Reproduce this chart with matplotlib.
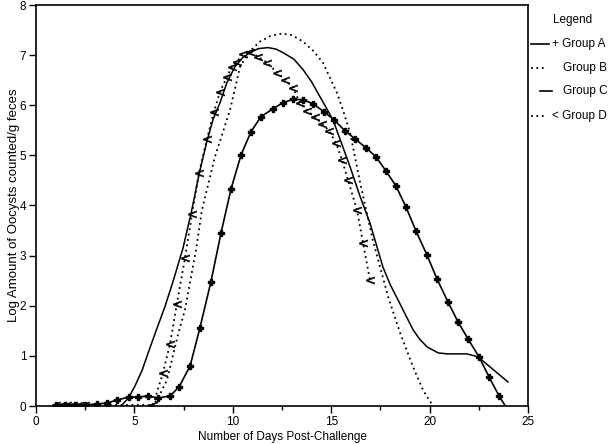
import matplotlib
matplotlib.use("Agg")
import matplotlib.pyplot as plt
from matplotlib.lines import Line2D
from matplotlib.ticker import MultipleLocator

plt.rcParams['font.family'] = ['Liberation Sans', 'DejaVu Sans']

# ---- data ----
days_a = [1.02, 1.47, 1.98, 2.49, 3.10, 3.61, 4.12, 4.73, 5.18, 5.69, 6.20, 6.81,
          7.27, 7.83, 8.33, 8.89, 9.40, 9.91, 10.42, 10.92, 11.43, 12.04, 12.55,
          13.06, 13.57, 14.08, 14.63, 15.14, 15.70, 16.21, 16.77, 17.28, 17.78,
          18.29, 18.80, 19.31, 19.87, 20.38, 20.93, 21.44, 21.95, 22.51, 23.02,
          23.53, 23.85]
vals_a = [0.02, 0.02, 0.02, 0.02, 0.04, 0.06, 0.12, 0.18, 0.18, 0.20, 0.16, 0.20,
          0.38, 0.80, 1.56, 2.48, 3.45, 4.33, 5.01, 5.47, 5.77, 5.93, 6.05,
          6.12, 6.11, 6.03, 5.87, 5.71, 5.49, 5.33, 5.15, 4.97, 4.69,
          4.39, 3.97, 3.49, 3.01, 2.53, 2.08, 1.68, 1.34, 0.98, 0.58,
          0.20, 0.0]

days_b = [5.85, 6.15, 6.66, 7.20, 7.57, 8.13, 8.43, 9.10, 9.86, 10.37, 10.85, 11.38,
          11.90, 12.50, 13.00, 13.57, 14.10, 14.58, 15.29, 15.60, 15.96, 16.50, 17.12,
          17.89, 18.50, 19.16, 19.66, 20.17]
vals_b = [0.0, 0.12, 0.52, 1.40, 1.92, 3.11, 3.91, 4.98, 5.91, 6.77, 7.07, 7.27,
          7.38, 7.43, 7.40, 7.27, 7.08, 6.85, 6.25, 5.90, 5.45, 4.40, 3.30,
          2.18, 1.46, 0.78, 0.32, 0.0]

days_c = [4.32, 4.70, 5.03, 5.40, 5.69, 6.10, 6.55, 6.96, 7.47, 7.90, 8.30, 8.69, 9.00,
          9.35, 9.70, 10.11, 10.50, 10.87, 11.30, 11.79, 12.20, 12.55, 13.10, 13.57,
          14.00, 14.43, 15.09, 15.96, 16.45, 16.97, 17.63, 18.00, 18.39, 18.80,
          19.16, 19.50, 19.87, 20.43, 20.88, 21.90, 22.46, 23.07, 23.98]
vals_c = [0.0, 0.16, 0.40, 0.72, 1.05, 1.50, 1.98, 2.48, 3.15, 3.88, 4.65, 5.29, 5.72,
          6.05, 6.45, 6.77, 6.95, 7.05, 7.13, 7.15, 7.12, 7.05, 6.92, 6.71,
          6.47, 6.17, 5.71, 4.77, 4.20, 3.65, 2.77, 2.42, 2.12, 1.80,
          1.52, 1.33, 1.18, 1.06, 1.04, 1.04, 0.98, 0.78, 0.48]

days_d = [1.00, 1.30, 1.60, 1.90, 2.20, 2.50, 5.95, 6.45, 6.81, 7.16, 7.57, 7.93,
          8.28, 8.69, 9.04, 9.35, 9.71, 9.96, 10.21, 10.52, 10.87, 11.28, 11.74,
          12.25, 12.65, 13.06, 13.41, 13.77, 14.18, 14.53, 14.89, 15.24, 15.55,
          15.85, 16.31, 16.62, 16.97]
vals_d = [0.02, 0.02, 0.02, 0.02, 0.02, 0.02, 0.02, 0.66, 1.24, 2.04, 2.95, 3.83,
          4.65, 5.33, 5.87, 6.27, 6.57, 6.77, 6.87, 7.03, 7.07, 6.97, 6.85,
          6.65, 6.51, 6.35, 6.05, 5.89, 5.77, 5.63, 5.49, 5.25, 4.91,
          4.51, 3.91, 3.25, 2.51]

X_LABEL = "Number of Days Post-Challenge"
Y_LABEL = "Log Amount of Oocysts counted/g feces"
LEGEND_LABELS = ["+ Group A", "Group B", "Group C", "< Group D"]

# ---- figure ----
fig = plt.figure(figsize=(6.08, 4.44), dpi=100)
ax = fig.add_axes([36 / 608, 1 - 406 / 444, (528 - 36) / 608, (406 - 5) / 444])

ax.plot(days_a, vals_a, color='black', lw=1.2, marker='P', ms=5,
        markevery=slice(0, len(days_a) - 1))
ax.plot(days_b, vals_b, color='black', lw=1.3, linestyle=(0, (1, 2)))
ax.plot(days_c, vals_c, color='black', lw=1.1)
ax.plot(days_d, vals_d, color='black', lw=1.3, linestyle=(0, (1, 2)),
        marker=r'$<$', ms=6, mew=0.4)

ax.set_xlim(0, 25)
ax.set_ylim(0, 8)
ax.xaxis.set_major_locator(MultipleLocator(5))
ax.xaxis.set_minor_locator(MultipleLocator(2.5))
ax.yaxis.set_major_locator(MultipleLocator(1))
ax.tick_params(axis='both', which='major', direction='out', length=5, width=1,
               labelsize=8.5, pad=2)
ax.tick_params(axis='x', which='minor', direction='out', length=3, width=1)
ax.tick_params(top=False, right=False)
for sp in ax.spines.values():
    sp.set_linewidth(1.2)

ax.set_xlabel(X_LABEL, fontsize=8.5, labelpad=2)
ax.set_ylabel(Y_LABEL, fontsize=9.5, labelpad=0)

# ---- legend, drawn by hand to the right of the plot ----
fig.text(553 / 608, 1 - 20 / 444, "Legend", fontsize=8.5, va='center', ha='left')
styles = [dict(ls='-', lw=1.2), dict(ls=(0, (1, 2)), lw=1.3),
          dict(ls='-', lw=1.2), dict(ls=(0, (1, 2)), lw=1.3)]
rows_y = [44, 68, 91, 116]
text_x = [552, 563, 563, 552]
line_x = [(531, 549), (531, 547), (540, 552), (531, 547)]
for lab, st, yy, tx, (x0, x1) in zip(LEGEND_LABELS, styles, rows_y, text_x, line_x):
    fig.add_artist(Line2D([x0 / 608, x1 / 608], [1 - yy / 444] * 2, color='black',
                          transform=fig.transFigure, **st))
    fig.text(tx / 608, 1 - yy / 444, lab, fontsize=8.5, va='center', ha='left')

fig.savefig("out.png", dpi=100)
